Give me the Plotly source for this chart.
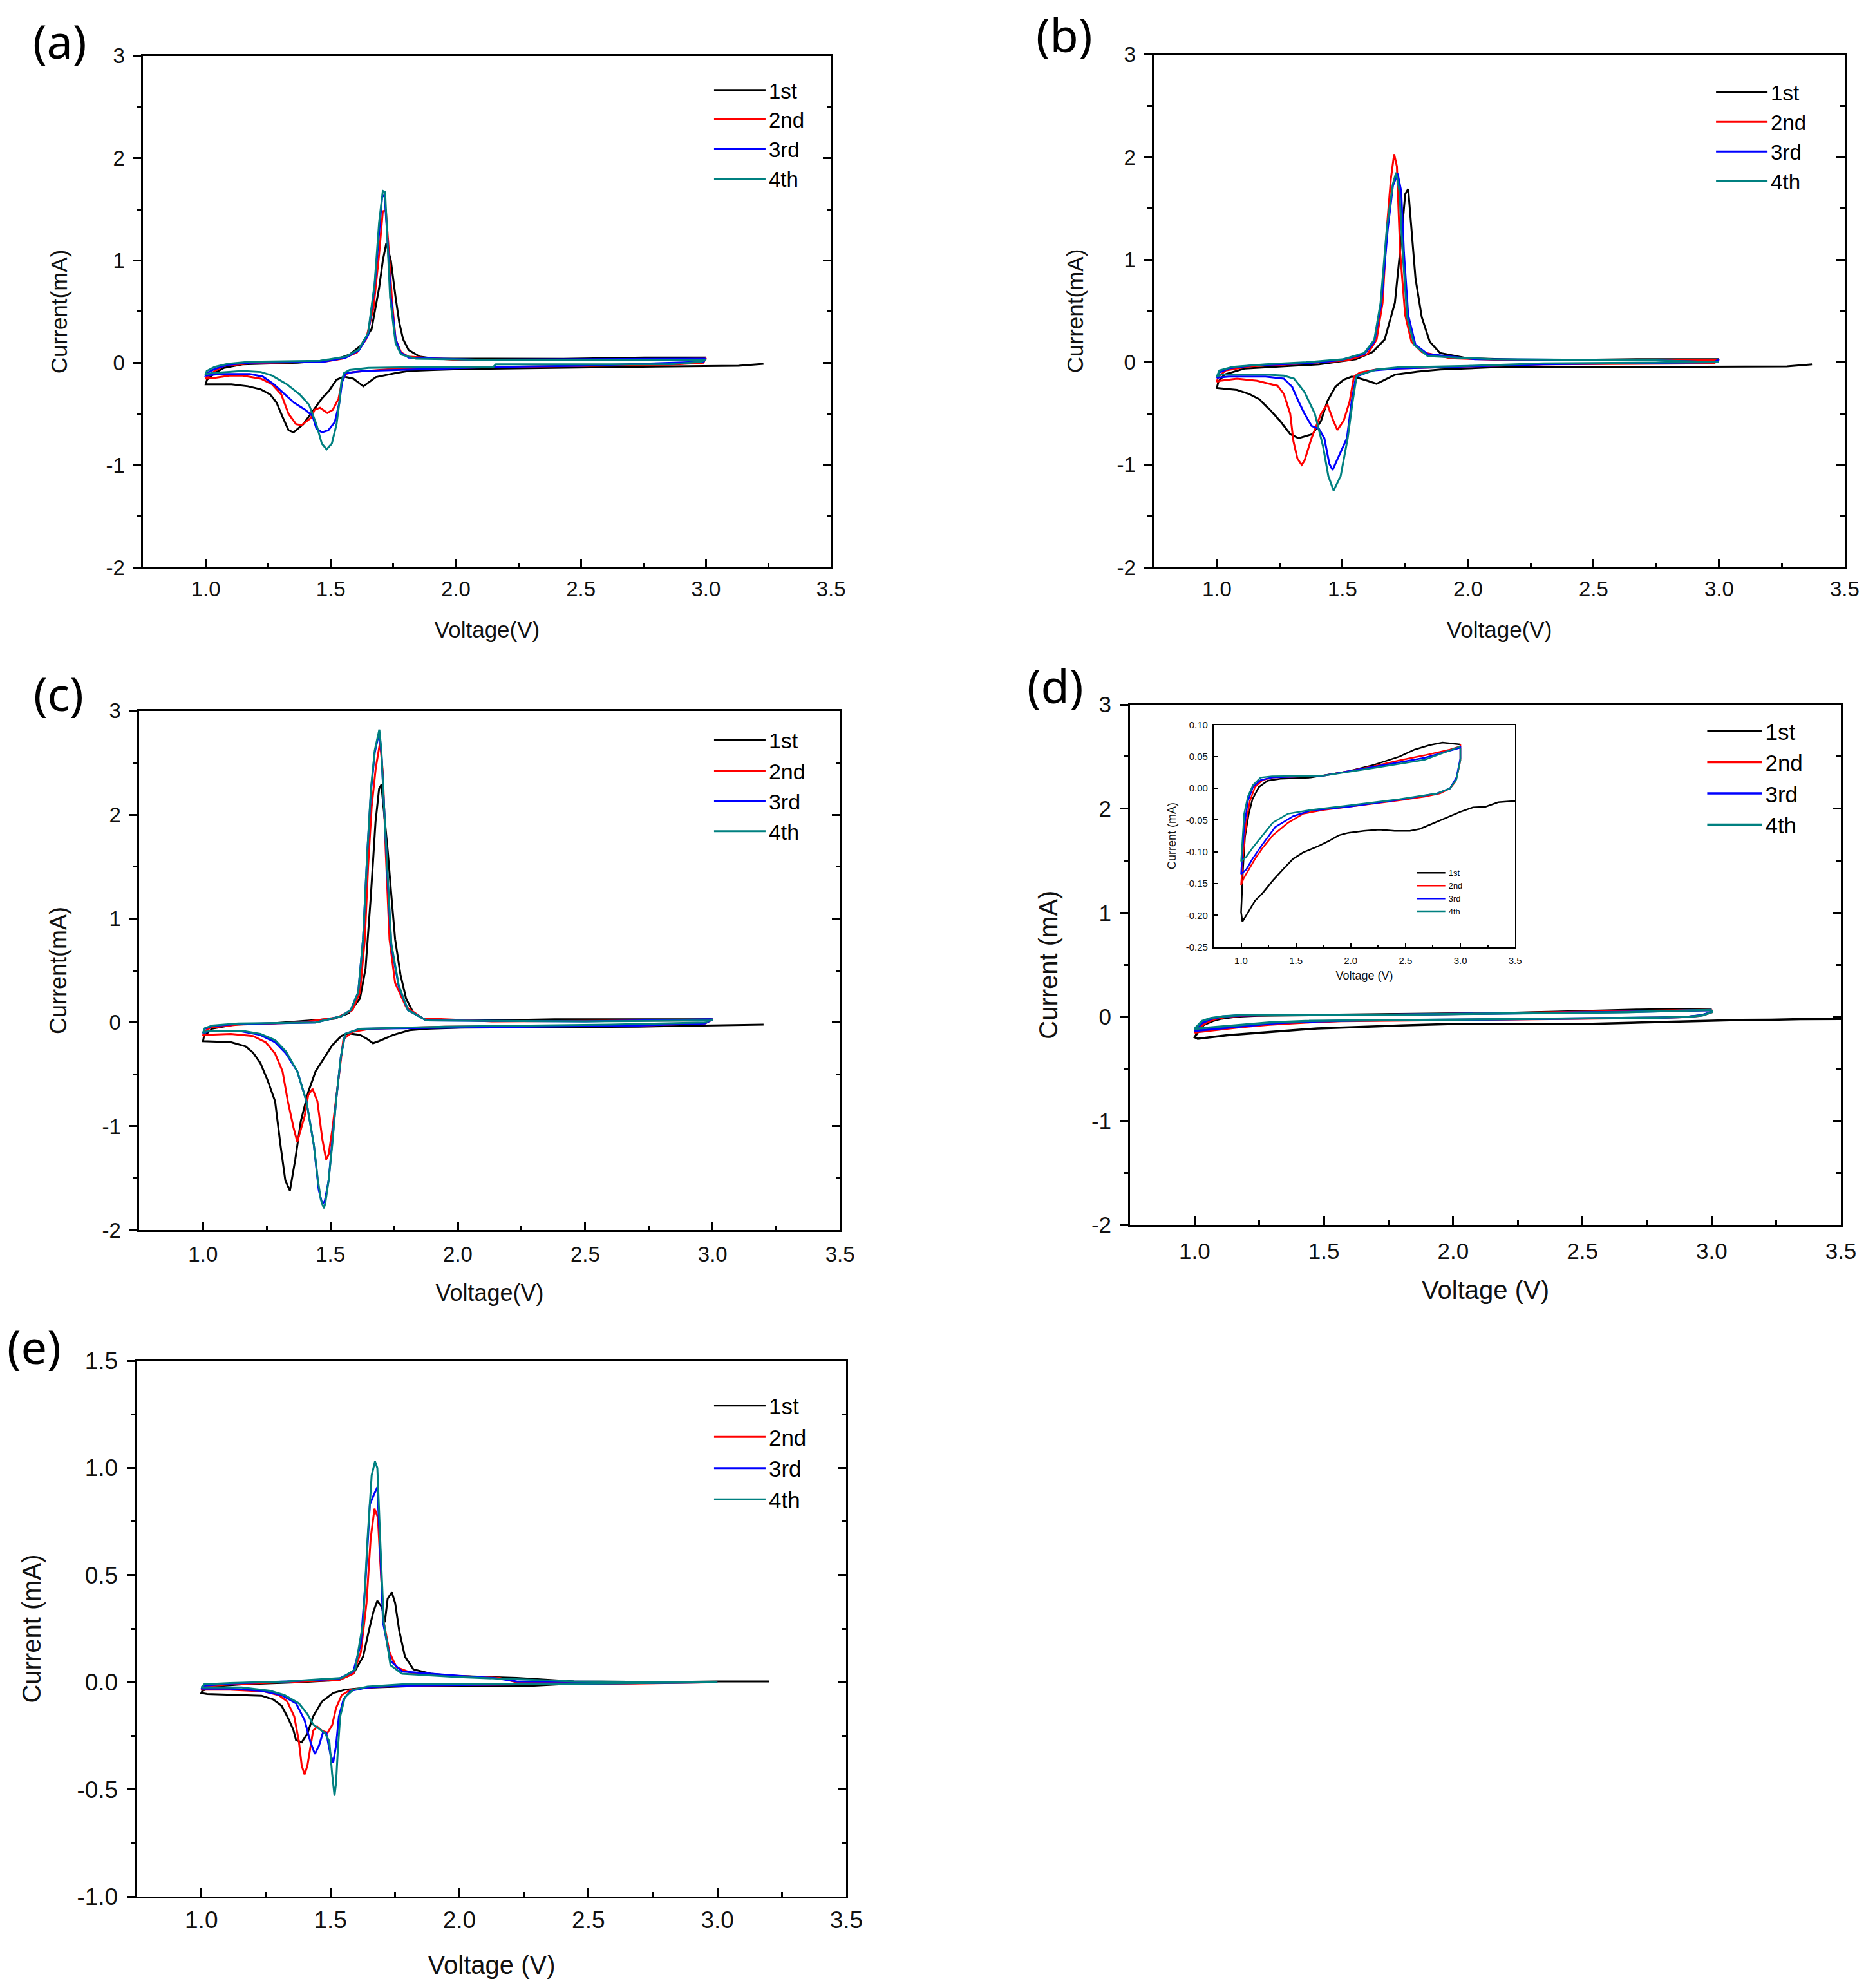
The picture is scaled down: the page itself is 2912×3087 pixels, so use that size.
import plotly.graph_objects as go

# cyclic voltammograms: (voltage V, current mA) along each scan
# ---- (a) ----
A_1ST = [(3.23, -0.01), (3.13, -0.03), (2.69, -0.04), (2.05, -0.06), (1.91, -0.07), (1.81, -0.08), (1.76, -0.10),
         (1.68, -0.14), (1.63, -0.23), (1.59, -0.155), (1.553, -0.135), (1.523, -0.165), (1.494, -0.27), (1.464, -0.35),
         (1.42, -0.50), (1.39, -0.60), (1.351, -0.68), (1.331, -0.66), (1.309, -0.54), (1.283, -0.39), (1.258, -0.31),
         (1.22, -0.26), (1.169, -0.23), (1.103, -0.21), (1.0, -0.21),
         (1.005, -0.165), (1.036, -0.10), (1.073, -0.05), (1.147, -0.016), (1.368, 0.0), (1.516, 0.03), (1.575, 0.08),
         (1.619, 0.166), (1.663, 0.33), (1.693, 0.73), (1.708, 1.0), (1.722, 1.17), (1.74, 1.0), (1.759, 0.64),
         (1.774, 0.39), (1.789, 0.23), (1.811, 0.125), (1.855, 0.06), (1.914, 0.04), (2.43, 0.038), (2.755, 0.05), (3.0, 0.05)]
A_2ND = [(3.0, 0.05), (2.99, 0.0), (2.85, -0.02), (2.2, -0.04), (1.9, -0.055), (1.752, -0.06), (1.59, -0.09), (1.56, -0.11),
         (1.545, -0.18), (1.531, -0.35), (1.508, -0.46), (1.486, -0.49), (1.457, -0.44), (1.435, -0.46), (1.42, -0.54),
         (1.383, -0.61), (1.361, -0.60), (1.331, -0.50), (1.302, -0.31), (1.265, -0.21), (1.22, -0.155), (1.147, -0.125),
         (1.095, -0.125), (1.044, -0.145), (1.0, -0.155),
         (1.005, -0.135), (1.036, -0.08), (1.073, -0.03), (1.191, -0.003), (1.472, 0.01), (1.545, 0.04), (1.604, 0.10),
         (1.641, 0.23), (1.671, 0.54), (1.693, 1.06), (1.708, 1.48), (1.72, 1.49), (1.73, 1.16), (1.745, 0.60),
         (1.759, 0.23), (1.781, 0.10), (1.811, 0.06), (1.988, 0.03), (2.726, 0.03), (3.0, 0.04)]
A_3RD = [(3.0, 0.04), (2.99, 0.01), (2.5, -0.03), (2.18, -0.04), (1.914, -0.06), (1.634, -0.08), (1.56, -0.10), (1.545, -0.19),
         (1.534, -0.39), (1.516, -0.58), (1.49, -0.66), (1.464, -0.68), (1.442, -0.64), (1.427, -0.52), (1.398, -0.46),
         (1.353, -0.39), (1.317, -0.31), (1.272, -0.21), (1.228, -0.135), (1.176, -0.11), (1.058, -0.11), (1.0, -0.125),
         (1.004, -0.10), (1.036, -0.06), (1.088, -0.02), (1.176, 0.0), (1.472, 0.01), (1.56, 0.05), (1.612, 0.12),
         (1.649, 0.27), (1.675, 0.75), (1.693, 1.27), (1.705, 1.62), (1.715, 1.64), (1.725, 1.27), (1.74, 0.64),
         (1.759, 0.23), (1.779, 0.10), (1.811, 0.05), (2.077, 0.03), (2.874, 0.036), (3.0, 0.04)]
A_4TH = [(3.0, 0.03), (2.98, 0.01), (2.86, -0.016), (2.16, -0.016), (2.15, -0.04), (1.914, -0.04), (1.65, -0.05),
         (1.575, -0.07), (1.553, -0.10), (1.542, -0.19), (1.534, -0.39), (1.523, -0.60), (1.504, -0.79), (1.483, -0.846),
         (1.464, -0.79), (1.442, -0.60), (1.413, -0.41), (1.376, -0.31), (1.324, -0.21), (1.265, -0.125), (1.22, -0.09),
         (1.147, -0.08), (1.029, -0.10), (1.0, -0.11),
         (1.004, -0.08), (1.036, -0.04), (1.088, -0.01), (1.176, 0.01), (1.457, 0.02), (1.56, 0.06), (1.612, 0.13),
         (1.649, 0.29), (1.675, 0.77), (1.693, 1.37), (1.708, 1.68), (1.717, 1.67), (1.725, 1.27), (1.737, 0.64),
         (1.759, 0.19), (1.781, 0.08), (1.84, 0.04), (2.077, 0.03), (2.874, 0.03), (3.0, 0.03)]

# ---- (b) ----
B_1ST = [(3.37, -0.02), (3.27, -0.04), (2.77, -0.045), (2.09, -0.05), (1.89, -0.07), (1.80, -0.09), (1.71, -0.12),
         (1.668, -0.17), (1.636, -0.21), (1.60, -0.18), (1.56, -0.15), (1.537, -0.14), (1.505, -0.17), (1.472, -0.24),
         (1.44, -0.38), (1.415, -0.57), (1.382, -0.70), (1.325, -0.74), (1.292, -0.70), (1.251, -0.57), (1.21, -0.46),
         (1.169, -0.36), (1.129, -0.31), (1.08, -0.27), (1.0, -0.25),
         (1.006, -0.19), (1.03, -0.12), (1.112, -0.06), (1.276, -0.04), (1.407, -0.02), (1.554, 0.03), (1.62, 0.10),
         (1.668, 0.22), (1.709, 0.58), (1.734, 1.19), (1.75, 1.64), (1.762, 1.69), (1.775, 1.31), (1.791, 0.82),
         (1.816, 0.44), (1.848, 0.20), (1.889, 0.09), (1.996, 0.04), (2.29, 0.02), (2.683, 0.03), (3.0, 0.03)]
B_2ND = [(3.0, 0.03), (2.98, -0.01), (2.3, -0.02), (2.0, -0.04), (1.72, -0.06), (1.636, -0.07), (1.57, -0.10),
         (1.546, -0.14), (1.529, -0.38), (1.505, -0.57), (1.48, -0.66), (1.464, -0.57), (1.44, -0.41), (1.415, -0.50),
         (1.377, -0.74), (1.349, -0.96), (1.338, -1.0), (1.321, -0.94), (1.305, -0.77), (1.292, -0.50), (1.267, -0.31),
         (1.242, -0.23), (1.16, -0.18), (1.08, -0.16), (1.014, -0.18), (1.0, -0.19),
         (1.006, -0.14), (1.035, -0.08), (1.128, -0.04), (1.357, -0.01), (1.521, 0.02), (1.60, 0.08), (1.636, 0.22),
         (1.66, 0.58), (1.677, 1.31), (1.693, 1.79), (1.706, 2.03), (1.717, 1.91), (1.73, 1.07), (1.75, 0.46),
         (1.775, 0.20), (1.816, 0.10), (1.93, 0.04), (2.175, 0.02), (3.0, 0.02)]
B_3RD = [(3.0, 0.03), (2.98, 0.0), (2.3, -0.02), (2.0, -0.04), (1.72, -0.06), (1.62, -0.08), (1.554, -0.14),
         (1.537, -0.38), (1.518, -0.74), (1.472, -0.99), (1.461, -1.05), (1.448, -0.99), (1.428, -0.74), (1.407, -0.65),
         (1.377, -0.62), (1.349, -0.50), (1.325, -0.38), (1.30, -0.24), (1.267, -0.16), (1.194, -0.14), (1.047, -0.14),
         (1.0, -0.15),
         (1.01, -0.10), (1.047, -0.06), (1.145, -0.03), (1.357, -0.01), (1.488, 0.02), (1.587, 0.08), (1.627, 0.20),
         (1.655, 0.58), (1.681, 1.31), (1.701, 1.72), (1.72, 1.84), (1.734, 1.67), (1.745, 1.07), (1.762, 0.46),
         (1.791, 0.17), (1.84, 0.08), (2.028, 0.03), (2.748, 0.02), (3.0, 0.0)]
B_4TH = [(3.0, 0.0), (2.3, -0.01), (2.0, -0.035), (1.72, -0.05), (1.636, -0.07), (1.557, -0.13), (1.541, -0.38),
         (1.521, -0.74), (1.493, -1.11), (1.465, -1.25), (1.444, -1.11), (1.423, -0.82), (1.39, -0.50), (1.349, -0.29),
         (1.308, -0.16), (1.267, -0.13), (1.194, -0.12), (1.014, -0.12), (1.0, -0.14),
         (1.01, -0.08), (1.063, -0.045), (1.194, -0.02), (1.357, 0.0), (1.505, 0.03), (1.587, 0.09), (1.627, 0.22),
         (1.652, 0.58), (1.677, 1.31), (1.701, 1.74), (1.714, 1.85), (1.727, 1.67), (1.74, 1.07), (1.758, 0.44),
         (1.786, 0.17), (1.84, 0.06), (2.094, 0.03), (2.748, 0.02), (3.0, 0.0)]

# ---- (c) ----
C_1ST = [(3.2, -0.02), (2.71, -0.04), (2.01, -0.05), (1.877, -0.06), (1.81, -0.075), (1.746, -0.12), (1.69, -0.18),
         (1.667, -0.20), (1.645, -0.16), (1.616, -0.12), (1.572, -0.105), (1.543, -0.13), (1.507, -0.22), (1.478, -0.33),
         (1.442, -0.47), (1.413, -0.67), (1.384, -0.95), (1.362, -1.32), (1.341, -1.62), (1.323, -1.52), (1.304, -1.18),
         (1.283, -0.76), (1.254, -0.56), (1.225, -0.39), (1.196, -0.29), (1.167, -0.23), (1.109, -0.19), (1.0, -0.18),
         (1.004, -0.13), (1.036, -0.06), (1.123, -0.02), (1.283, -0.006), (1.514, 0.036), (1.572, 0.09), (1.616, 0.23),
         (1.638, 0.52), (1.659, 1.23), (1.677, 1.93), (1.691, 2.25), (1.70, 2.29), (1.71, 2.05), (1.725, 1.65),
         (1.739, 1.23), (1.754, 0.80), (1.775, 0.46), (1.797, 0.23), (1.826, 0.09), (1.877, 0.02), (2.14, 0.02),
         (2.38, 0.03), (3.0, 0.03)]
C_2ND = [(3.0, 0.03), (2.97, -0.01), (2.71, -0.03), (1.95, -0.04), (1.659, -0.06), (1.587, -0.09), (1.551, -0.16),
         (1.536, -0.47), (1.522, -0.76), (1.507, -1.04), (1.493, -1.27), (1.483, -1.32), (1.468, -1.12), (1.449, -0.76),
         (1.43, -0.64), (1.413, -0.70), (1.399, -0.90), (1.37, -1.15), (1.355, -1.01), (1.333, -0.76), (1.312, -0.47),
         (1.283, -0.30), (1.246, -0.19), (1.196, -0.13), (1.109, -0.11), (1.007, -0.12), (1.0, -0.13),
         (1.004, -0.09), (1.029, -0.05), (1.138, -0.02), (1.384, 0.0), (1.529, 0.05), (1.587, 0.12), (1.616, 0.29),
         (1.635, 0.80), (1.648, 1.51), (1.662, 2.08), (1.678, 2.45), (1.695, 2.70), (1.706, 2.40), (1.717, 1.65),
         (1.732, 0.80), (1.754, 0.38), (1.797, 0.15), (1.862, 0.04), (2.14, 0.01), (2.97, 0.02), (3.0, 0.03)]
C_3RD = [(3.0, 0.03), (2.97, -0.01), (2.71, -0.03), (1.95, -0.05), (1.616, -0.06), (1.558, -0.11), (1.541, -0.33),
         (1.522, -0.76), (1.507, -1.18), (1.493, -1.52), (1.478, -1.72), (1.468, -1.75), (1.454, -1.61), (1.435, -1.18),
         (1.406, -0.76), (1.37, -0.47), (1.326, -0.30), (1.283, -0.19), (1.225, -0.12), (1.152, -0.085), (1.022, -0.085),
         (1.0, -0.105),
         (1.007, -0.06), (1.036, -0.035), (1.138, -0.015), (1.442, 0.0), (1.543, 0.06), (1.58, 0.12), (1.609, 0.29),
         (1.628, 0.80), (1.645, 1.65), (1.659, 2.22), (1.674, 2.60), (1.692, 2.80), (1.70, 2.60), (1.71, 2.08),
         (1.725, 1.37), (1.739, 0.74), (1.768, 0.35), (1.804, 0.12), (1.877, 0.02), (2.5, 0.01), (3.0, 0.03)]
C_4TH = [(3.0, 0.03), (2.97, 0.0), (2.6, -0.02), (1.95, -0.04), (1.616, -0.06), (1.558, -0.11), (1.541, -0.33),
         (1.522, -0.76), (1.507, -1.18), (1.493, -1.52), (1.48, -1.74), (1.474, -1.79), (1.462, -1.70), (1.45, -1.50),
         (1.435, -1.18), (1.406, -0.76), (1.37, -0.47), (1.326, -0.28), (1.283, -0.17), (1.225, -0.11), (1.152, -0.08),
         (1.022, -0.08), (1.0, -0.10),
         (1.007, -0.055), (1.036, -0.03), (1.138, -0.01), (1.442, 0.0), (1.543, 0.06), (1.58, 0.12), (1.609, 0.29),
         (1.628, 0.80), (1.645, 1.65), (1.659, 2.25), (1.674, 2.62), (1.692, 2.82), (1.70, 2.62), (1.71, 2.10),
         (1.725, 1.40), (1.739, 0.76), (1.768, 0.36), (1.804, 0.12), (1.877, 0.02), (2.5, 0.01), (3.0, 0.02)]

# ---- (d) and its inset (same data) ----
D_1ST = [(3.5, -0.020), (3.345, -0.022), (3.23, -0.029), (3.115, -0.030), (3.0, -0.037), (2.906, -0.044), (2.79, -0.052),
         (2.70, -0.059), (2.63, -0.064), (2.54, -0.067), (2.40, -0.067), (2.26, -0.065), (2.12, -0.067), (1.98, -0.070),
         (1.89, -0.074), (1.80, -0.083), (1.705, -0.091), (1.566, -0.101), (1.474, -0.111), (1.38, -0.128), (1.29, -0.145),
         (1.196, -0.165), (1.127, -0.177), (1.058, -0.197), (1.012, -0.21), (1.0, -0.195),
         (1.018, -0.125), (1.035, -0.077), (1.07, -0.04), (1.104, -0.017), (1.162, 0.002), (1.243, 0.012), (1.358, 0.015),
         (1.635, 0.017), (1.982, 0.027), (2.213, 0.037), (2.444, 0.05), (2.583, 0.061), (2.72, 0.068), (2.837, 0.072),
         (2.906, 0.071), (3.0, 0.069)]
D_2ND = [(3.0, 0.069), (3.0, 0.044), (2.976, 0.024), (2.953, 0.01), (2.906, 0.0), (2.814, -0.008), (2.675, -0.013),
         (2.444, -0.019), (2.213, -0.024), (1.982, -0.029), (1.75, -0.034), (1.566, -0.04), (1.43, -0.054), (1.289, -0.074),
         (1.196, -0.094), (1.127, -0.111), (1.058, -0.131), (1.023, -0.142), (1.0, -0.152),
         (1.01, -0.128), (1.023, -0.094), (1.046, -0.054), (1.08, -0.02), (1.127, 0.002), (1.196, 0.013), (1.289, 0.017),
         (1.75, 0.02), (1.982, 0.027), (2.213, 0.035), (2.444, 0.044), (2.675, 0.052), (2.906, 0.061), (3.0, 0.066)]
D_3RD = [(3.0, 0.066), (3.0, 0.047), (2.964, 0.017), (2.906, 0.0), (2.79, -0.008), (2.444, -0.018), (1.982, -0.029),
         (1.635, -0.035), (1.474, -0.044), (1.312, -0.061), (1.196, -0.088), (1.104, -0.111), (1.046, -0.128), (1.0, -0.135),
         (1.012, -0.101), (1.028, -0.061), (1.062, -0.02), (1.108, 0.002), (1.178, 0.013), (1.282, 0.017), (1.75, 0.02),
         (2.213, 0.034), (2.675, 0.048), (3.0, 0.064)]
D_4TH = [(3.0, 0.064), (3.0, 0.044), (2.964, 0.014), (2.906, 0.0), (2.79, -0.008), (2.444, -0.017), (1.982, -0.027),
         (1.635, -0.034), (1.428, -0.04), (1.289, -0.054), (1.196, -0.074), (1.104, -0.094), (1.046, -0.108), (1.0, -0.115),
         (1.012, -0.084), (1.028, -0.04), (1.062, -0.013), (1.108, 0.005), (1.178, 0.017), (1.282, 0.019), (1.75, 0.02),
         (2.213, 0.032), (2.675, 0.045), (3.0, 0.066)]

# ---- (e) ----
E_1ST = [(3.2, 0.004), (3.0, 0.004), (2.444, -0.006), (2.29, -0.016), (1.867, -0.016), (1.667, -0.024), (1.6, -0.03),
         (1.556, -0.035), (1.511, -0.05), (1.467, -0.09), (1.433, -0.16), (1.411, -0.24), (1.389, -0.28), (1.367, -0.27),
         (1.356, -0.22), (1.333, -0.16), (1.311, -0.11), (1.278, -0.08), (1.233, -0.063), (1.111, -0.059), (1.022, -0.055),
         (1.0, -0.05),
         (1.004, -0.04), (1.044, -0.02), (1.156, -0.01), (1.378, 0.0), (1.533, 0.01), (1.589, 0.04), (1.627, 0.12),
         (1.649, 0.24), (1.667, 0.33), (1.682, 0.38), (1.70, 0.35), (1.711, 0.28), (1.722, 0.39), (1.738, 0.42),
         (1.751, 0.37), (1.767, 0.24), (1.789, 0.12), (1.822, 0.06), (1.889, 0.04), (1.978, 0.03), (2.222, 0.02),
         (2.444, 0.004), (3.0, 0.0)]
E_2ND = [(3.0, 0.0), (2.667, -0.006), (2.222, -0.01), (1.778, -0.016), (1.644, -0.024), (1.578, -0.035), (1.544, -0.06),
         (1.522, -0.12), (1.507, -0.20), (1.489, -0.236), (1.467, -0.226), (1.449, -0.207), (1.433, -0.226), (1.422, -0.315),
         (1.411, -0.39), (1.40, -0.43), (1.389, -0.39), (1.378, -0.276), (1.36, -0.16), (1.333, -0.09), (1.30, -0.06),
         (1.244, -0.043), (1.111, -0.035), (1.0, -0.035),
         (1.011, -0.02), (1.111, -0.01), (1.333, 0.0), (1.533, 0.01), (1.589, 0.04), (1.618, 0.14), (1.64, 0.37),
         (1.656, 0.67), (1.671, 0.81), (1.684, 0.77), (1.693, 0.57), (1.707, 0.28), (1.729, 0.14), (1.756, 0.07),
         (1.822, 0.04), (2.0, 0.03), (2.156, 0.02), (2.222, 0.0), (3.0, 0.0)]
E_3RD = [(3.0, 0.0), (2.667, -0.004), (2.222, -0.01), (1.778, -0.016), (1.644, -0.024), (1.578, -0.04), (1.551, -0.08),
         (1.533, -0.16), (1.522, -0.295), (1.511, -0.374), (1.5, -0.335), (1.484, -0.236), (1.471, -0.236), (1.456, -0.295),
         (1.44, -0.335), (1.422, -0.276), (1.40, -0.177), (1.367, -0.098), (1.311, -0.06), (1.233, -0.04), (1.111, -0.03),
         (1.0, -0.03),
         (1.011, -0.016), (1.111, -0.006), (1.333, 0.004), (1.533, 0.016), (1.589, 0.05), (1.618, 0.18), (1.636, 0.47),
         (1.653, 0.83), (1.667, 0.87), (1.682, 0.91), (1.693, 0.63), (1.704, 0.28), (1.733, 0.10), (1.778, 0.05),
         (2.0, 0.03), (2.133, 0.02), (2.222, 0.004), (3.0, 0.0)]
E_4TH = [(3.0, 0.0), (2.222, -0.01), (1.778, -0.01), (1.644, -0.02), (1.589, -0.035), (1.556, -0.07), (1.538, -0.16),
         (1.529, -0.315), (1.522, -0.47), (1.516, -0.53), (1.507, -0.43), (1.496, -0.276), (1.478, -0.236), (1.456, -0.217),
         (1.433, -0.197), (1.411, -0.148), (1.378, -0.098), (1.322, -0.06), (1.267, -0.04), (1.156, -0.024), (1.0, -0.024),
         (1.011, -0.01), (1.111, -0.004), (1.333, 0.004), (1.544, 0.02), (1.596, 0.06), (1.627, 0.28), (1.644, 0.67),
         (1.66, 0.965), (1.673, 1.03), (1.682, 1.0), (1.693, 0.67), (1.707, 0.28), (1.733, 0.08), (1.778, 0.04),
         (2.0, 0.024), (2.222, 0.014), (2.267, 0.01), (2.444, 0.004), (3.0, 0.0)]

CYCLES = ["1st", "2nd", "3rd", "4th"]
COLORS = ["black", "#ff0000", "#0000ff", "#008080"]

Y_TICKS_MAIN = [-2, -1, 0, 1, 2, 3]
Y_TEXT_MAIN = ["-2", "-1", "0", "1", "2", "3"]
Y_TICKS_E = [-1.0, -0.5, 0.0, 0.5, 1.0, 1.5]
Y_TEXT_E = ["-1.0", "-0.5", "0.0", "0.5", "1.0", "1.5"]
Y_TICKS_IN = [-0.25, -0.20, -0.15, -0.10, -0.05, 0.0, 0.05, 0.10]
Y_TEXT_IN = ["-0.25", "-0.20", "-0.15", "-0.10", "-0.05", "0.00", "0.05", "0.10"]

ARIAL = "Liberation Sans, Arial, sans-serif"
SEGOE = "Noto Sans, Open Sans, sans-serif"

# panel setup
panels = [
    dict(ax="", right="7", curves=[A_1ST, A_2ND, A_3RD, A_4TH], leg="legend",
         xd=[0.0764, 0.4432], yd=[0.7146, 0.9719], yr=[-2, 3], yt=(Y_TICKS_MAIN, Y_TEXT_MAIN), ymin=0.5,
         tsize=33, titsize=35, xt="Voltage(V)", yt_="Current(mA)", lw=3, xls=2, xst=34, yst=50,
         legxy=(0.3791, 0.9638), legsize=33, iw=80),
    dict(ax="2", right="8", curves=[B_1ST, B_2ND, B_3RD, B_4TH], leg="legend2",
         xd=[0.6155, 0.9838], yd=[0.7146, 0.9725], yr=[-2, 3], yt=(Y_TICKS_MAIN, Y_TEXT_MAIN), ymin=0.5,
         tsize=33, titsize=35, xt="Voltage(V)", yt_="Current(mA)", lw=3, xls=2, xst=34, yst=42,
         legxy=(0.9135, 0.9626), legsize=33, iw=80),
    dict(ax="3", right="9", curves=[C_1ST, C_2ND, C_3RD, C_4TH], leg="legend3",
         xd=[0.0743, 0.4480], yd=[0.3812, 0.6424], yr=[-2, 3], yt=(Y_TICKS_MAIN, Y_TEXT_MAIN), ymin=0.5,
         tsize=33, titsize=36, xt="Voltage(V)", yt_="Current(mA)", lw=3, xls=6, xst=30, yst=44,
         legxy=(0.3791, 0.6370), legsize=34, iw=80),
    dict(ax="4", right="10", curves=[D_1ST, D_2ND, D_3RD, D_4TH], leg="legend4",
         xd=[0.6027, 0.9818], yd=[0.3838, 0.6456], yr=[-2, 3], yt=(Y_TICKS_MAIN, Y_TEXT_MAIN), ymin=0.5,
         tsize=35, titsize=40, xt="Voltage (V)", yt_="Current (mA)", lw=3.5, xls=8, xst=28, yst=40,
         legxy=(0.9088, 0.6418), legsize=35, iw=85),
    dict(ax="5", right=None, curves=[D_1ST, D_2ND, D_3RD, D_4TH], leg="legend5",
         xd=[0.6473, 0.8081], yd=[0.5236, 0.6354], yr=[-0.25, 0.10], yt=(Y_TICKS_IN, Y_TEXT_IN), ymin=None,
         tsize=15, titsize=18, xt="Voltage (V)", yt_="Current (mA)", lw=2.5, xls=6, xst=10, yst=10,
         legxy=(0.754, 0.5658), legsize=13, iw=44),
    dict(ax="6", right="11", curves=[E_1ST, E_2ND, E_3RD, E_4TH], leg="legend6",
         xd=[0.0730, 0.4514], yd=[0.0460, 0.3155], yr=[-1.0, 1.5], yt=(Y_TICKS_E, Y_TEXT_E), ymin=0.25,
         tsize=37, titsize=40, xt="Voltage (V)", yt_="Current (mA)", lw=3, xls=2, xst=36, yst=44,
         legxy=(0.3791, 0.3024), legsize=35, iw=80),
]

fig = go.Figure()
layout = {}

for p in panels:
    inset = p["right"] is None
    for name, color, curve in zip(CYCLES, COLORS, p["curves"]):
        v, i = zip(*curve)
        fig.add_trace(go.Scatter(
            x=v, y=i, mode="lines", name=name,
            line=dict(color=color, width=p["lw"]),
            xaxis="x" + p["ax"], yaxis="y" + p["ax"],
            legend=p["leg"],
        ))
    big, small = (7, 4) if inset else (13, 7)
    tw = 2 if inset else 2.5
    tfont = dict(family=ARIAL, size=p["tsize"], color="#111")
    base = dict(showline=True, linecolor="black", linewidth=2 if inset else 3, mirror=True,
                showgrid=False, zeroline=False, tickcolor="black", tickwidth=tw, tickfont=tfont,
                automargin=False)
    # bottom axis: ticks point into the plot
    layout["xaxis" + p["ax"]] = dict(
        base, domain=p["xd"], anchor="y" + p["ax"], range=[0.75, 3.5],
        ticks="inside", ticklen=big, dtick=0.5, tick0=0, tickformat=".1f",
        ticklabelstandoff=p["xls"],
        minor=dict(dtick=0.25, ticks="inside", ticklen=small, tickcolor="black", tickwidth=tw),
        title=dict(text=p["xt"], font=dict(family=ARIAL, size=p["titsize"], color="#111"),
                   standoff=p["xst"]),
    )
    # left axis: ticks outside (inset: inside)
    ydict = dict(
        base, domain=p["yd"], anchor="x" + p["ax"], range=p["yr"],
        ticks="inside" if inset else "outside", ticklen=big,
        tickmode="array", tickvals=p["yt"][0], ticktext=p["yt"][1],
        ticklabelstandoff=4 if inset else 6,
        title=dict(text=p["yt_"], font=dict(family=ARIAL, size=p["titsize"], color="#111"),
                   standoff=p["yst"]),
    )
    if p["ymin"]:
        ydict["minor"] = dict(dtick=p["ymin"], ticks="outside", ticklen=small, tickcolor="black", tickwidth=tw)
    layout["yaxis" + p["ax"]] = ydict

    # right axis: ticks only, pointing inward
    if not inset:
        fig.add_trace(go.Scatter(x=[], y=[], xaxis="x" + p["ax"], yaxis="y" + p["right"],
                                 showlegend=False, hoverinfo="skip"))
        layout["yaxis" + p["right"]] = dict(
            overlaying="y" + p["ax"], anchor="x" + p["ax"], side="right", range=p["yr"],
            showline=False, showgrid=False, zeroline=False, showticklabels=False,
            ticks="inside", ticklen=big, tickwidth=tw, tickcolor="black",
            tickmode="array", tickvals=p["yt"][0],
            minor=dict(dtick=p["ymin"], ticks="inside", ticklen=small, tickcolor="black", tickwidth=tw),
        )

    layout[p["leg"]] = dict(
        x=p["legxy"][0], y=p["legxy"][1], xanchor="left", yanchor="top",
        bgcolor="rgba(0,0,0,0)", borderwidth=0,
        font=dict(family=ARIAL, size=p["legsize"], color="black"),
        itemwidth=p["iw"], tracegroupgap=0,
    )

# panel letters
letters = [("(a)", 0.0318, 0.9796), ("(b)", 0.5676, 0.9828), ("(c)", 0.0311, 0.6513),
           ("(d)", 0.5628, 0.6552), ("(e)", 0.0182, 0.3231)]
annotations = [dict(text=t, x=x, y=y, xref="paper", yref="paper", showarrow=False,
                    xanchor="center", yanchor="middle",
                    font=dict(family=SEGOE, size=72, color="black"))
               for t, x, y in letters]

fig.update_layout(
    width=2912, height=3087,
    margin=dict(l=0, r=0, t=0, b=0, autoexpand=False),
    paper_bgcolor="white", plot_bgcolor="white",
    annotations=annotations,
    **layout,
)

# drop the default page margin so the figure sits flush in the window
fig.write_html("out.html", config={"displayModeBar": False},
               post_script="document.body.style.margin='0px';document.body.style.overflow='hidden';")
